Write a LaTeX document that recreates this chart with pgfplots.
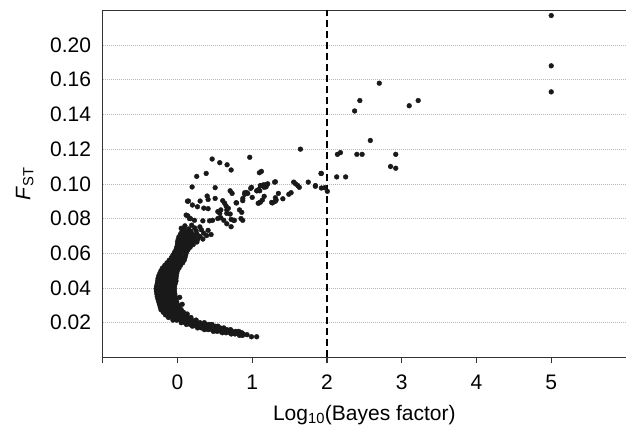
\documentclass[border=0pt]{standalone}
\usepackage{pgfplots}
\pgfplotsset{compat=1.18}
\usepackage{fontspec}
\setmainfont{Liberation Sans}
\begin{document}
\begin{tikzpicture}
\begin{axis}[
  name=ax,
  scale only axis,
  width=523.3pt, height=347.1pt,
  xmin=-1, xmax=6, ymin=0, ymax=0.2,
  axis x line=box, axis y line=left,
  axis line style={-, black!80, line width=1.4pt},
  xtick={-1,0,1,2,3,4,5},
  xticklabels={,0,1,2,3,4,5},
  xtick pos=bottom,
  xtick align=outside,
  major tick length=6pt,
  x tick style={black!80, line width=1.2pt},
  ytick={0.02,0.04,0.06,0.08,0.10,0.12,0.14,0.16,0.18},
  yticklabels={0.02,0.04,0.06,0.08,0.10,0.12,0.14,0.16,0.20},
  y tick style={draw=none},
  ymajorgrids,
  major grid style={gray!55, line width=0.6pt, dash pattern=on 1pt off 1pt},
  /pgf/number format/assume math mode=true,
  tick label style={font=\fontsize{21}{25}\selectfont, inner sep=0pt},
  yticklabel shift=8.5pt,
  xticklabel shift=11.6pt,
  xlabel={Log\textsubscript{10}(Bayes factor)},
  ylabel={\textit{F}\textsubscript{ST}},
  label style={font=\fontsize{21}{25}\selectfont},
  xlabel style={at={(axis description cs:0.5,0)}, anchor=base, yshift=-62.6pt, inner sep=0pt},
  ylabel style={at={(axis description cs:0,0.5)}, anchor=center, yshift=78pt, xshift=0pt, inner sep=0pt},
  clip=false,
]
\addplot[black, line width=2.3pt, dash pattern=on 7pt off 4pt] coordinates {(2,0) (2,0.2)};
\addplot[only marks, mark=*, mark size=2.4pt, color=black!90, mark options={draw=black!90, fill=black!90}] table {
x y
-0.02 0.0620
0.03 0.0620
0.08 0.0620
0.14 0.0620
-0.04 0.0605
0.01 0.0605
0.06 0.0605
0.12 0.0605
-0.06 0.0590
-0.01 0.0590
0.04 0.0590
0.11 0.0590
-0.08 0.0575
-0.03 0.0575
0.02 0.0575
0.07 0.0575
0.10 0.0575
-0.11 0.0560
-0.06 0.0560
-0.01 0.0560
0.04 0.0560
0.09 0.0560
-0.14 0.0545
-0.09 0.0545
-0.04 0.0545
0.01 0.0545
0.07 0.0545
-0.17 0.0530
-0.12 0.0530
-0.07 0.0530
-0.02 0.0530
0.04 0.0530
-0.20 0.0515
-0.15 0.0515
-0.10 0.0515
-0.05 0.0515
0.00 0.0515
0.02 0.0515
-0.22 0.0500
-0.17 0.0500
-0.12 0.0500
-0.07 0.0500
-0.02 0.0500
0.00 0.0500
-0.235 0.0485
-0.185 0.0485
-0.135 0.0485
-0.085 0.0485
-0.035 0.0485
-0.01 0.0485
-0.25 0.0470
-0.20 0.0470
-0.15 0.0470
-0.10 0.0470
-0.05 0.0470
-0.015 0.0470
-0.26 0.0455
-0.21 0.0455
-0.16 0.0455
-0.11 0.0455
-0.06 0.0455
-0.02 0.0455
-0.265 0.0440
-0.215 0.0440
-0.165 0.0440
-0.115 0.0440
-0.065 0.0440
-0.02 0.0440
-0.27 0.0425
-0.22 0.0425
-0.17 0.0425
-0.12 0.0425
-0.07 0.0425
-0.03 0.0425
-0.28 0.0410
-0.23 0.0410
-0.18 0.0410
-0.13 0.0410
-0.08 0.0410
-0.04 0.0410
-0.285 0.0395
-0.235 0.0395
-0.185 0.0395
-0.135 0.0395
-0.085 0.0395
-0.04 0.0395
-0.28 0.0380
-0.23 0.0380
-0.18 0.0380
-0.13 0.0380
-0.08 0.0380
-0.04 0.0380
-0.275 0.0365
-0.225 0.0365
-0.175 0.0365
-0.125 0.0365
-0.075 0.0365
-0.035 0.0365
-0.27 0.0350
-0.22 0.0350
-0.17 0.0350
-0.12 0.0350
-0.07 0.0350
-0.03 0.0350
-0.26 0.0335
-0.21 0.0335
-0.16 0.0335
-0.11 0.0335
-0.06 0.0335
-0.02 0.0335
-0.25 0.0320
-0.20 0.0320
-0.15 0.0320
-0.10 0.0320
-0.05 0.0320
-0.01 0.0320
-0.24 0.0305
-0.19 0.0305
-0.14 0.0305
-0.09 0.0305
-0.04 0.0305
0.00 0.0305
-0.23 0.0290
-0.18 0.0290
-0.13 0.0290
-0.08 0.0290
-0.03 0.0290
0.02 0.0290
-0.22 0.0275
-0.17 0.0275
-0.12 0.0275
-0.07 0.0275
-0.02 0.0275
0.03 0.0275
0.05 0.0275
-0.19 0.0260
-0.14 0.0260
-0.09 0.0260
-0.04 0.0260
0.01 0.0260
0.06 0.0260
0.08 0.0260
-0.16 0.0245
-0.11 0.0245
-0.06 0.0245
-0.01 0.0245
0.04 0.0245
0.09 0.0245
0.12 0.0245
-0.12 0.0230
-0.07 0.0230
-0.02 0.0230
0.03 0.0230
0.08 0.0230
0.13 0.0230
0.18 0.0230
-0.06 0.0215
-0.01 0.0215
0.04 0.0215
0.09 0.0215
0.14 0.0215
0.19 0.0215
0.25 0.0215
0.05 0.0200
0.10 0.0200
0.15 0.0200
0.20 0.0200
0.25 0.0200
0.30 0.0200
0.36 0.0200
0.12 0.0190
0.17 0.0190
0.22 0.0190
0.27 0.0190
0.32 0.0190
0.37 0.0190
0.42 0.0190
0.46 0.0190
0.20 0.0180
0.25 0.0180
0.30 0.0180
0.35 0.0180
0.40 0.0180
0.45 0.0180
0.50 0.0180
0.54 0.0180
0.27 0.0170
0.32 0.0170
0.37 0.0170
0.42 0.0170
0.47 0.0170
0.52 0.0170
0.57 0.0170
0.62 0.0170
0.36 0.0160
0.41 0.0160
0.46 0.0160
0.51 0.0160
0.56 0.0160
0.61 0.0160
0.66 0.0160
0.71 0.0160
0.48 0.0150
0.53 0.0150
0.58 0.0150
0.63 0.0150
0.68 0.0150
0.73 0.0150
0.78 0.0150
0.82 0.0150
0.60 0.0142
0.65 0.0142
0.70 0.0142
0.75 0.0142
0.80 0.0142
0.86 0.0142
0.72 0.0135
0.77 0.0135
0.82 0.0135
0.88 0.0135
0.83 0.0127
0.87 0.0127
0.93 0.0131
0.99 0.0119
1.06 0.0119
0.01 0.0538
0.03 0.0346
0.063 0.0306
0.13 0.0250
-0.01 0.0635
0.04 0.0635
0.09 0.0635
0.14 0.0635
0.17 0.0635
0.00 0.0650
0.05 0.0650
0.10 0.0650
0.15 0.0650
0.21 0.0650
0.00 0.0665
0.05 0.0665
0.10 0.0665
0.15 0.0665
0.20 0.0665
0.26 0.0665
0.01 0.0680
0.06 0.0680
0.11 0.0680
0.16 0.0680
0.21 0.0680
0.27 0.0680
0.34 0.0682
0.02 0.0695
0.07 0.0695
0.12 0.0695
0.17 0.0695
0.23 0.0695
0.30 0.0697
0.39 0.0702
0.04 0.0710
0.09 0.0710
0.14 0.0710
0.20 0.0710
0.26 0.0712
0.35 0.0716
0.45 0.0708
0.06 0.0725
0.12 0.0725
0.18 0.0727
0.25 0.0730
0.32 0.0735
0.41 0.0732
0.08 0.0742
0.15 0.0740
0.23 0.0746
0.30 0.0752
0.10 0.0758
0.19 0.0762
0.05 0.0744
0.116 0.0820
0.174 0.0800
0.20 0.0878
0.134 0.0900
0.464 0.1143
0.566 0.1122
0.664 0.1110
0.718 0.1080
0.967 0.1153
0.384 0.1060
0.258 0.1043
1.096 0.1064
1.123 0.1072
0.196 0.0982
0.504 0.0978
0.705 0.0960
0.731 0.0945
0.147 0.0901
0.303 0.0901
0.397 0.0930
0.410 0.0910
0.504 0.0916
0.606 0.0903
0.632 0.0888
0.651 0.0872
0.267 0.0868
0.352 0.0860
0.410 0.0857
0.540 0.0840
0.566 0.0830
0.580 0.0850
0.680 0.0859
0.705 0.0826
0.785 0.0891
0.873 0.0903
0.900 0.0940
0.926 0.0950
0.980 0.0974
1.000 0.0922
1.065 0.0960
1.087 0.0968
1.114 0.0989
1.154 0.0995
1.186 0.0983
1.207 0.1000
1.096 0.0891
1.136 0.0907
1.310 0.1012
1.260 0.0893
1.320 0.0907
1.350 0.0945
0.227 0.0790
0.340 0.0787
0.430 0.0787
0.470 0.0790
0.540 0.0800
0.580 0.0805
0.718 0.0795
0.762 0.0790
0.850 0.0800
0.873 0.0790
0.660 0.0770
0.718 0.0753
0.620 0.0790
0.830 0.0850
0.860 0.0836
0.660 0.0850
0.660 0.0830
0.750 0.0790
0.138 0.0816
0.160 0.0800
1.41 0.0914
1.52 0.0949
1.49 0.0940
1.27 0.0890
1.31 0.0900
1.31 0.0920
1.16 0.0928
1.08 0.0888
1.11 0.0895
1.555 0.1010
1.58 0.1000
1.61 0.0990
1.75 0.1010
1.845 0.0986
1.20 0.0997
1.16 0.0980
1.11 0.0990
0.99 0.0980
1.06 0.0960
1.10 0.0960
0.90 0.0949
0.94 0.0945
0.875 0.0916
0.79 0.0890
1.30 0.1010
1.92 0.1060
2.13 0.1040
1.645 0.1200
2.70 0.158
2.44 0.148
2.37 0.142
3.10 0.145
3.22 0.148
2.58 0.125
2.14 0.117
2.18 0.118
2.40 0.117
2.47 0.117
2.92 0.117
2.85 0.110
2.92 0.109
2.25 0.104
1.925 0.106
1.845 0.099
1.925 0.0976
1.97 0.0978
2.005 0.0957
1.63 0.098
5.0 0.197
5.0 0.168
5.0 0.153
};
\end{axis}
\pgfresetboundingbox
\path[use as bounding box] (ax.south west) ++(-102.7pt,-68.6pt) rectangle ++(626pt,426pt);
\end{tikzpicture}
\end{document}
